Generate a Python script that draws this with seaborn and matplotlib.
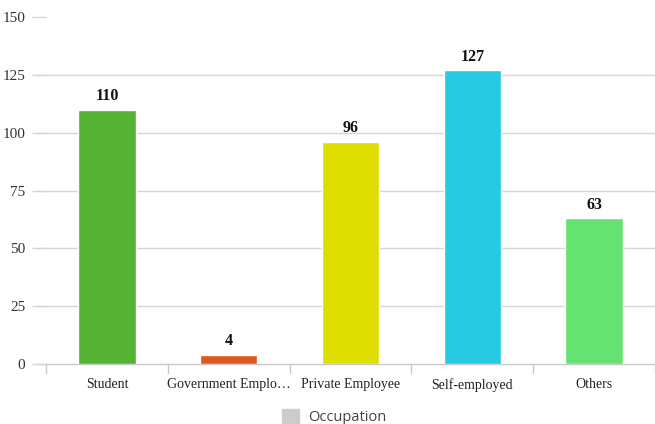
import matplotlib
matplotlib.use("Agg")
import matplotlib.pyplot as plt
import matplotlib.patches as mpatches
import seaborn as sns
import pandas as pd

categories = ["Student", "Government Emplo\u2026", "Private Employee", "Self-employed", "Others"]
values = [110, 4, 96, 127, 63]
colors = ["#55b233", "#e0581f", "#dede00", "#27c9e3", "#66e272"]
yticks = [0, 25, 50, 75, 100, 125, 150]
legend_label = "Occupation"

sns.set_style("white")
plt.rcParams["font.family"] = ["Liberation Serif", "DejaVu Serif"]

df = pd.DataFrame({"cat": categories, "val": values})

fig = plt.figure(figsize=(6.55, 4.24), dpi=100)
ax = fig.add_axes([46/655, 60/424, 609/655, 347/424])

sns.barplot(data=df, x="cat", y="val", hue="cat", palette=colors, width=0.47,
            legend=False, ax=ax, saturation=1)

ax.set_xlim(-0.5, 4.5)
ax.set_ylim(0, 150)
ax.set_xlabel("")
ax.set_ylabel("")
for s in ax.spines.values():
    s.set_visible(False)

grid_c = "#d6d6d6"
for t in yticks[:-1]:
    ax.axhline(t, xmin=-10/609, xmax=1, color=grid_c if t else "#c8c8c8", lw=1, clip_on=False, zorder=0)
ax.set_yticks(yticks)
ax.tick_params(axis="y", left=True, length=10, color=grid_c, width=1, labelsize=11,
               labelcolor="#333333", pad=5)

# x ticks at category boundaries
ax.set_xticks([i for i in range(len(categories))])
ax.set_xticklabels(categories, fontsize=10, color="#222222")
ax.tick_params(axis="x", bottom=False, length=0, pad=10)
for b in [-0.5, 0.5, 1.5, 2.5, 3.5, 4.5]:
    ax.plot([b, b], [0, -4], color="#c8c8c8", lw=1, clip_on=False, transform=ax.transData)
ax.set_ylim(0, 150)

for c in ax.containers:
    ax.bar_label(c, fontsize=11.5, fontweight="bold", padding=4, color="#111111")

patch = mpatches.Patch(color="#cccccc", label=legend_label)
fig.legend(handles=[patch], loc="center", bbox_to_anchor=(0.51, 7/424), frameon=False,
           prop={"family": "Open Sans", "size": 10.5}, handlelength=1.2, handleheight=1.2,
           handletextpad=0.6)
for t in fig.legends[0].get_texts():
    t.set_color("#444444")

fig.savefig("out.png", dpi=100)
